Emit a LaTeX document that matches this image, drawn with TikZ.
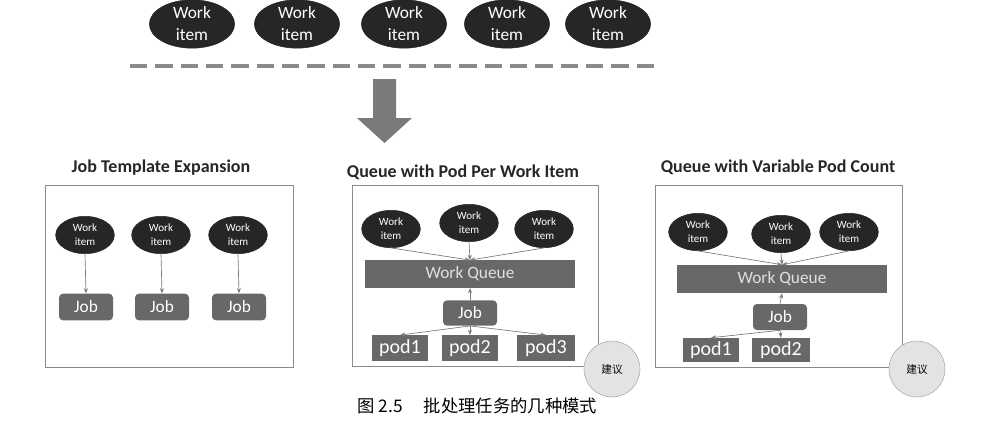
\documentclass[tikz,border=0pt]{standalone}
\usepackage{fontspec}
\setmainfont{Carlito}
\newfontfamily\cjk{Noto Sans CJK SC}
\usetikzlibrary{shapes.geometric,arrows.meta}
\definecolor{dark}{HTML}{262626}
\definecolor{boxg}{HTML}{686868}
\definecolor{lineg}{HTML}{8A8A8A}
\definecolor{arrg}{HTML}{7A7A7A}
\tikzset{
  bigitem/.style={ellipse,fill=dark,draw=dark,minimum width=64pt,minimum height=35pt,inner sep=0pt,align=center,text=white,font=\fontsize{13}{16.5}\selectfont},
  smallitem/.style={ellipse,fill=dark,draw=dark,minimum width=44pt,minimum height=28pt,inner sep=0pt,align=center,text=white,font=\fontsize{8.3}{10.3}\selectfont},
  gbox/.style={rectangle,fill=boxg,inner sep=0pt,text=white,font=\fontsize{13}{14}\selectfont},
  podbox/.style={gbox,font=\fontsize{15}{16}\selectfont},
  panel/.style={draw=lineg,line width=0.6pt},
  title/.style={font=\bfseries\fontsize{13.5}{15}\selectfont,text=black!85},
  conn/.style={draw=arrg,line width=0.5pt,-{Stealth[length=4pt,width=3pt]}},
  advice/.style={circle,draw=gray!70,fill=gray!22,minimum size=42pt,inner sep=0pt,font=\cjk\fontsize{8}{9}\selectfont}
}
\begin{document}
\begin{tikzpicture}[x=0.75pt,y=-0.75pt]
\useasboundingbox (0,0) rectangle (1003,444);
% top work items
\foreach \i/\x in {1/192,2/297,3/404,4/507,5/608}
  \node[bigitem] (t\i) at (\x,24) {Work\\item};
\draw[lineg,line width=2.6pt,dash pattern=on 13pt off 6pt] (130,66) -- (656,66);
\fill[arrg] (373,79) -- (396,79) -- (396,118) -- (412,118) -- (384.5,143) -- (357,118) -- (373,118) -- cycle;

% panel 1
\node[title] (ttl1) at (161,168) {Job Template Expansion};
\draw[panel] (45,185) rectangle (293,367);
\foreach \i/\x in {1/85,2/161,3/238}{
  \node[smallitem] (a\i) at (\x,235) {Work\\item};
  \node[gbox,minimum width=40.5pt,minimum height=20pt,rounded corners=3pt] (j\i) at (\x+1,307) {Job};
  \draw[conn] (a\i.south) -- (j\i.north);
}

% panel 2
\node[title] (ttl2) at (463,172) {Queue with Pod Per Work Item};
\draw[panel] (352,185) rectangle (598,366);
\node[smallitem] (b1) at (391,229) {Work\\item};
\node[smallitem] (b2) at (469,223) {Work\\item};
\node[smallitem] (b3) at (544,229) {Work\\item};
\node[gbox,minimum width=157.5pt,minimum height=20.5pt,text=white!88!black] (wq2) at (470,274) {Work Queue};
\node[gbox,minimum width=40.5pt,minimum height=19pt,rounded corners=3pt] (jb2) at (470,313) {Job};
\node[podbox,minimum width=42pt,minimum height=19pt] (p21) at (400,348) {pod1};
\node[podbox,minimum width=42pt,minimum height=19pt] (p22) at (470,348) {pod2};
\node[podbox,minimum width=43pt,minimum height=19pt] (p23) at (546,348) {pod3};
\foreach \e in {b1,b2,b3} \draw[conn] (\e.south) -- (wq2.north);
\draw[conn] (jb2.north) -- (wq2.south);
\foreach \p in {p21,p22,p23} \draw[conn] (jb2.south) -- (\p.north);
\node[advice] (adv2) at (612,369) {建议};

% panel 3
\node[title] (ttl3) at (778,167) {Queue with Variable Pod Count};
\draw[panel] (655,185) rectangle (902,367);
\node[smallitem] (c1) at (698,232) {Work\\item};
\node[smallitem] (c2) at (781,234) {Work\\item};
\node[smallitem] (c3) at (849,232) {Work\\item};
\node[gbox,minimum width=157.5pt,minimum height=21pt,text=white!88!black] (wq3) at (782,279) {Work Queue};
\node[gbox,minimum width=40.5pt,minimum height=19.5pt,rounded corners=3pt] (jb3) at (780,317) {Job};
\node[podbox,minimum width=42pt,minimum height=18pt] (p31) at (711,350) {pod1};
\node[podbox,minimum width=43pt,minimum height=18pt] (p32) at (781,350) {pod2};
\foreach \e in {c1,c2,c3} \draw[conn] (\e.south) -- (wq3.north);
\draw[conn] (jb3.north) -- (wq3.south);
\foreach \p in {p31,p32} \draw[conn] (jb3.south) -- (\p.north);
\node[advice] (adv3) at (917,369) {建议};

% caption
\node[font=\cjk\fontsize{13}{15}\selectfont,anchor=west] (cap) at (353,406) {图 2.5\hspace{1.2em}批处理任务的几种模式};
\end{tikzpicture}
\end{document}
